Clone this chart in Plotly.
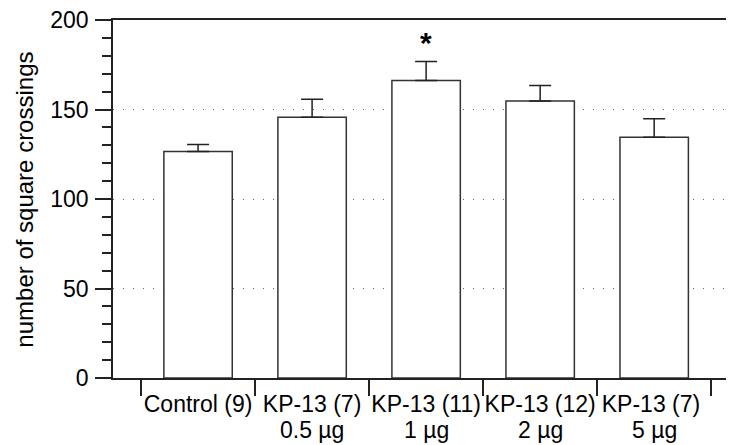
import plotly.graph_objects as go

categories = ["Control (9)", "KP-13 (7)", "KP-13 (11)", "KP-13 (12)", "KP-13 (7) "]
doses = ["", "0.5 µg", "1 µg", "2 µg", "5 µg"]
means = [126.5, 145.7, 166.2, 154.7, 134.5]
sems = [4.0, 10.0, 10.6, 8.7, 10.3]
significant = [False, False, True, False, False]

FONT = "Liberation Sans, Arial, Helvetica, sans-serif"

fig = go.Figure()
fig.add_trace(go.Bar(
    x=categories, y=means, width=0.6,
    marker=dict(color="white", line=dict(color="#333333", width=1.5)),
    error_y=dict(type="data", array=sems, arrayminus=[0] * len(sems), symmetric=False,
                 color="#222222", thickness=1.5, width=11),
    showlegend=False,
))

# second label lines (doses)
for c, d in zip(categories, doses):
    if d:
        fig.add_annotation(x=c, y=0, xref="x", yref="paper", text=d, showarrow=False,
                           yanchor="top", yshift=-37, font=dict(size=23, color="black", family=FONT))

for c, m, s, sig in zip(categories, means, sems, significant):
    if sig:
        fig.add_annotation(x=c, y=m + s, xref="x", yref="y", text="<b>*</b>", showarrow=False,
                           yanchor="bottom", yshift=1, font=dict(size=30, color="black", family=FONT))

fig.add_annotation(x=-0.144, y=0.497, xref="paper", yref="paper", text="number of square crossings",
                   textangle=-90, showarrow=False, xanchor="center", yanchor="middle",
                   font=dict(size=24, color="black", family=FONT))

fig.update_layout(
    width=734, height=445,
    margin=dict(l=105, r=8, t=12, b=75),
    plot_bgcolor="white", paper_bgcolor="white",
    font=dict(family=FONT, size=23, color="black"),
    bargap=0.4,
    xaxis=dict(
        type="category", range=[-0.746, 4.70], tickson="boundaries",
        ticks="outside", ticklen=16, tickwidth=1.5, tickcolor="#222222",
        showline=True, linecolor="#222222", linewidth=1.5, mirror=True,
        showgrid=False, zeroline=False, tickfont=dict(size=23, color="black"),
        tickangle=0, automargin=False, ticklabeloverflow="allow", ticklabelstandoff=5,
    ),
    yaxis=dict(
        range=[0, 200], tickvals=[0, 50, 100, 150, 200],
        ticks="outside", ticklen=16, tickwidth=1.5, tickcolor="#222222",
        showline=True, linecolor="#222222", linewidth=1.5,
        showgrid=True, gridcolor="#666666", gridwidth=1, griddash="1px,9px",
        zeroline=False, ticklabelstandoff=2, automargin=False, ticklabeloverflow="allow",
        tickfont=dict(size=23, color="black"),
        minor=dict(dtick=10, ticks="outside", ticklen=9, tickwidth=1.5, tickcolor="#222222", showgrid=False),
    ),
)

fig.write_html("out.html")
